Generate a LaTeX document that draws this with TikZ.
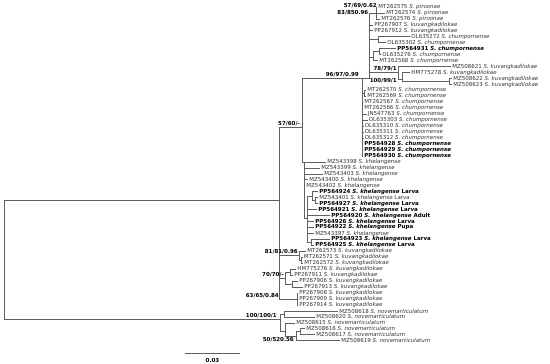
\documentclass[tikz,border=0pt]{standalone}
\usepackage{fontspec}
\setmainfont{DejaVu Sans}
\newcommand\sptx[1]{\textit{S. #1}}
\begin{document}
\begin{tikzpicture}[x=1pt,y=-1pt,
  br/.style={draw=black!62, line width=0.75pt, line cap=rect},
  tip/.style={anchor=west, inner xsep=1.2pt, inner ysep=0pt, font=\fontsize{5.5}{6}\selectfont, text=black!80},
  btip/.style={tip, font=\fontsize{5.5}{6}\selectfont\bfseries, text=black},
  bslab/.style={anchor=east, inner sep=0pt, font=\fontsize{5.5}{6}\selectfont\bfseries, text=black}]
\useasboundingbox (0,0) rectangle (550,364);
% internal nodes
\coordinate (R0) at (4,200.5);
\coordinate (B) at (279,200.5);
\coordinate (C) at (302,127);
\coordinate (N96) at (362,78.5);
\coordinate (N83) at (369,78.5);
\coordinate (N57) at (376,13);
\coordinate (O1) at (378,39.8);
\coordinate (P) at (373,57.7);
\coordinate (P2) at (379,51.7);
\coordinate (Q) at (398,72);
\coordinate (R) at (402,79);
\coordinate (S) at (449,81.5);
\coordinate (T1) at (364,93.4);
\coordinate (K) at (304,162);
\coordinate (K3) at (307,218);
\coordinate (K4) at (312,196);
\coordinate (K5) at (315,200.7);
\coordinate (K6) at (311,242.4);
\coordinate (E) at (299,255);
\coordinate (E2) at (301,260.3);
\coordinate (F) at (285,278);
\coordinate (F1) at (290,272.2);
\coordinate (F2) at (292,284.2);
\coordinate (H) at (297,299);
\coordinate (N) at (280,319);
\coordinate (N1) at (284,314);
\coordinate (N2) at (285,331);
\coordinate (N3) at (296,336.5);
\coordinate (N4) at (300,331.8);
% tips
\node[tip] (t0) at (377,7.0) {MT262575 \sptx{piroonae}};
\node[tip] (t1) at (385,13.0) {MT262574 \sptx{piroonae}};
\node[tip] (t2) at (380,18.9) {MT262576 \sptx{piroonae}};
\node[tip] (t3) at (373,24.9) {PP267907 \sptx{kuvangkadilokae}};
\node[tip] (t4) at (373,30.8) {PP267912 \sptx{kuvangkadilokae}};
\node[tip] (t5) at (410,36.8) {OL635272 \sptx{chumpornense}};
\node[tip] (t6) at (386,42.8) {OL635302 \sptx{chumpornense}};
\node[btip] (t7) at (396,48.7) {PP564931 \sptx{chumpornense}};
\node[tip] (t8) at (381,54.7) {OL635276 \sptx{chumpornense}};
\node[tip] (t9) at (378,60.6) {MT262568 \sptx{chumpornense}};
\node[tip] (t10) at (451,66.6) {MZ508621 \sptx{kuvangkadilokae}};
\node[tip] (t11) at (410,72.6) {HM775278 \sptx{kuvangkadilokae}};
\node[tip] (t12) at (452,78.5) {MZ508622 \sptx{kuvangkadilokae}};
\node[tip] (t13) at (452,84.5) {MZ508623 \sptx{kuvangkadilokae}};
\node[tip] (t14) at (366,90.4) {MT262570 \sptx{chumpornense}};
\node[tip] (t15) at (366,96.4) {MT262569 \sptx{chumpornense}};
\node[tip] (t16) at (363,102.4) {MT262567 \sptx{chumpornense}};
\node[tip] (t17) at (363,108.3) {MT262566 \sptx{chumpornense}};
\node[tip] (t18) at (366.5,114.3) {JN547763 \sptx{chumpornense}};
\node[tip] (t19) at (367.5,120.2) {OL635303 \sptx{chumpornense}};
\node[tip] (t20) at (363.5,126.2) {OL635310 \sptx{chumpornense}};
\node[tip] (t21) at (363.5,132.2) {OL635311 \sptx{chumpornense}};
\node[tip] (t22) at (363.5,138.1) {OL635312 \sptx{chumpornense}};
\node[btip] (t23) at (363,144.1) {PP564928 \sptx{chumpornense}};
\node[btip] (t24) at (363,150.0) {PP564929 \sptx{chumpornense}};
\node[btip] (t25) at (363,156.0) {PP564930 \sptx{chumpornense}};
\node[tip] (t26) at (326,162.0) {MZ543398 \sptx{khelangense}};
\node[tip] (t27) at (320,167.9) {MZ543399 \sptx{khelangense}};
\node[tip] (t28) at (323,173.9) {MZ543403 \sptx{khelangense}};
\node[tip] (t29) at (308,179.8) {MZ543400 \sptx{khelangense}};
\node[tip] (t30) at (305,185.8) {MZ543402 \sptx{khelangense}};
\node[btip] (t31) at (318,191.8) {PP564924 \sptx{khelangense} Larva};
\node[tip] (t32) at (318,197.7) {MZ543401 \sptx{khelangense} Larva};
\node[btip] (t33) at (318,203.7) {PP564927 \sptx{khelangense} Larva};
\node[btip] (t34) at (317,209.6) {PP564921 \sptx{khelangense} Larva};
\node[btip] (t35) at (330,215.6) {PP564920 \sptx{khelangense} Adult};
\node[btip] (t36) at (314,221.6) {PP564926 \sptx{khelangense} Larva};
\node[btip] (t37) at (314,227.5) {PP564922 \sptx{khelangense} Pupa};
\node[tip] (t38) at (314,233.5) {MZ543397 \sptx{khelangense}};
\node[btip] (t39) at (330,239.4) {PP564923 \sptx{khelangense} Larva};
\node[btip] (t40) at (314,245.4) {PP564925 \sptx{khelangense} Larva};
\node[tip] (t41) at (306,251.4) {MT262573 \sptx{kuvangkadilokae}};
\node[tip] (t42) at (302.5,257.3) {MT262571 \sptx{kuvangkadilokae}};
\node[tip] (t43) at (303,263.3) {MT262572 \sptx{kuvangkadilokae}};
\node[tip] (t44) at (296,269.2) {HM775276 \sptx{kuvangkadilokae}};
\node[tip] (t45) at (293,275.2) {PP267911 \sptx{kuvangkadilokae}};
\node[tip] (t46) at (298,281.2) {PP267906 \sptx{kuvangkadilokae}};
\node[tip] (t47) at (303,287.1) {PP267913 \sptx{kuvangkadilokae}};
\node[tip] (t48) at (298,293.1) {PP267908 \sptx{kuvangkadilokae}};
\node[tip] (t49) at (298,299.0) {PP267909 \sptx{kuvangkadilokae}};
\node[tip] (t50) at (298,305.0) {PP267914 \sptx{kuvangkadilokae}};
\node[tip] (t51) at (338,311.0) {MZ508618 \sptx{novemarticulatum}};
\node[tip] (t52) at (315,316.9) {MZ508620 \sptx{novemarticulatum}};
\node[tip] (t53) at (295,322.9) {MZ508615 \sptx{novemarticulatum}};
\node[tip] (t54) at (305,328.8) {MZ508616 \sptx{novemarticulatum}};
\node[tip] (t55) at (315,334.8) {MZ508617 \sptx{novemarticulatum}};
\node[tip] (t56) at (340,340.8) {MZ508619 \sptx{novemarticulatum}};
% internal branches
\foreach \p/\c in {R0/B, R0/N, B/C, B/E, B/F, B/H, C/N96, C/K, N96/N83,
  N83/N57, N83/O1, N83/P, N83/Q, P/P2, Q/R, R/S, N96/T1, K/K3, K3/K4,
  K4/K5, K3/K6, E/E2, F/F1, F/F2, N/N1, N/N2, N2/N3, N3/N4}
  \draw[br] (\p) |- (\c);
% terminal branches
\foreach \p/\c in {N57/t0, N57/t1, N57/t2, N83/t3, N83/t4, O1/t5, O1/t6,
  P2/t7, P2/t8, P/t9, Q/t10, R/t11, S/t12, S/t13, T1/t14, T1/t15,
  N96/t16, N96/t17, N96/t18, N96/t19, N96/t20, N96/t21, N96/t22,
  N96/t23, N96/t24, N96/t25, K/t26, K/t27, K/t28, K/t29, K/t30,
  K4/t31, K5/t32, K5/t33, K3/t34, K3/t35, K3/t36, K3/t37, K3/t38,
  K6/t39, K6/t40, E/t41, E2/t42, E2/t43, F1/t44, F1/t45, F2/t46,
  F2/t47, H/t48, H/t49, H/t50, N1/t51, N1/t52, N2/t53, N4/t54,
  N4/t55, N3/t56}
  \draw[br] (\p) |- (\c.west);
% support labels
\node[bslab] (L57) at (377,5.3) {57/69/0.62};
\node[bslab] (L83) at (368.5,12.3) {83/850.96};
\node[bslab] (L96) at (359,75) {96/97/0.99};
\node[bslab] (L78) at (397,69) {78/79/1};
\node[bslab] (L100b) at (397,80.5) {100/99/1};
\node[bslab] (L57b) at (300,123.5) {57/60/-};
\node[bslab] (L81) at (298,252) {81/81/0.96};
\node[bslab] (L70) at (284,275) {70/70/-};
\node[bslab] (L63) at (279,296) {63/65/0.84};
\node[bslab] (L100) at (277,315.5) {100/100/1};
\node[bslab] (L50) at (294,340) {50/520.56};
% scale bar
\coordinate (sb1) at (185,353.5);
\coordinate (sb2) at (240,353.5);
\draw[br] (sb1) -- (sb2);
\node[inner sep=0pt, font=\fontsize{5.5}{6}\selectfont\bfseries] (sbl) at (212.5,360) {0.03};
\end{tikzpicture}
\end{document}
